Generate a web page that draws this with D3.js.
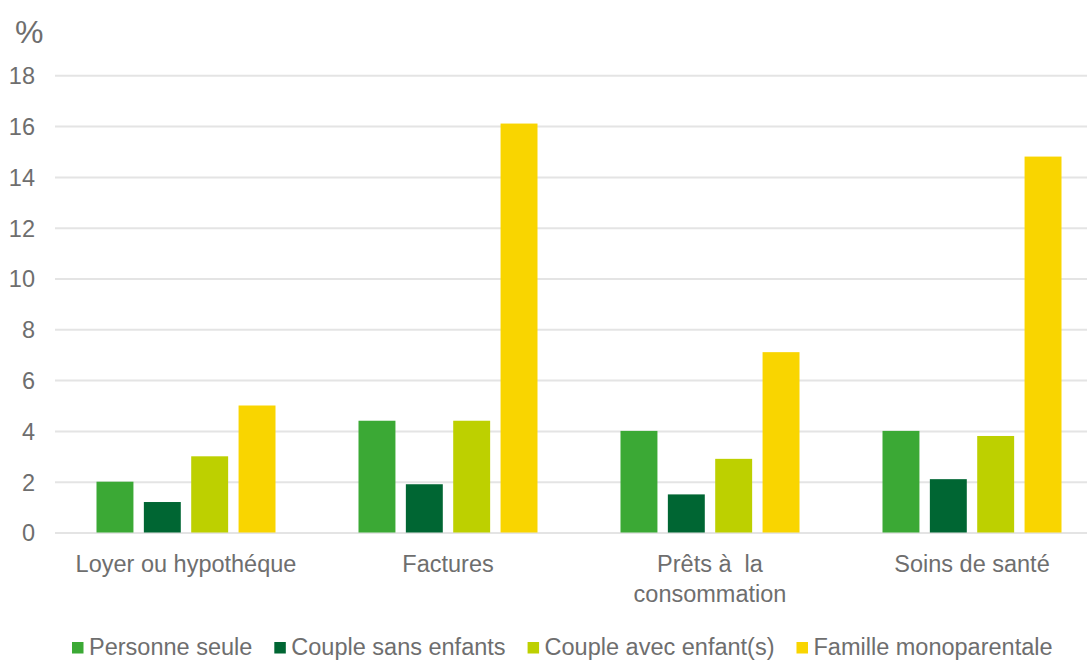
<!DOCTYPE html>
<html>
<head>
<meta charset="utf-8">
<script src="https://cdn.jsdelivr.net/npm/d3@7"></script>
<style>
  html, body { margin: 0; padding: 0; background: #fff; }
  svg { display: block; font-family: "Liberation Sans", Arial, sans-serif; }
</style>
</head>
<body>
<svg id="chart" width="1087" height="660"></svg>
<script>
const categories = [["Loyer ou hypothéque"], ["Factures"], ["Prêts à  la", "consommation"], ["Soins de santé"]];
const categoryKeys = ["Loyer ou hypothéque", "Factures", "Prêts à  la consommation", "Soins de santé"];
const seriesNames = ["Personne seule", "Couple sans enfants", "Couple avec enfant(s)", "Famille monoparentale"];
const seriesColors = ["#3ba935", "#006633", "#bdd000", "#f9d500"];
const personneSeule = [2.0, 4.4, 4.0, 4.0];
const coupleSansEnfants = [1.2, 1.9, 1.5, 2.1];
const coupleAvecEnfants = [3.0, 4.4, 2.9, 3.8];
const familleMonoparentale = [5.0, 16.1, 7.1, 14.8];
const yTicks = [0, 2, 4, 6, 8, 10, 12, 14, 16, 18];
const yUnit = "%";

const seriesValues = [personneSeule, coupleSansEnfants, coupleAvecEnfants, familleMonoparentale];
const svg = d3.select("#chart");
const textColor = "#6e6e6e";
const fontSize = 23.5;

const x0 = d3.scaleBand().domain(categoryKeys).range([55, 1103]).padding(0);
const x1 = d3.scaleBand().domain(seriesNames)
  .range([41.5, x0.bandwidth() - 41.5]).paddingInner(0.22).paddingOuter(0);
const y = d3.scaleLinear().domain([0, 18]).range([532.5, 75.3]);

// gridlines
const yAxis = d3.axisLeft(y).tickValues(yTicks).tickSize(-(1103 - 55)).tickPadding(20).tickFormat(d3.format("d"));
const gAxis = svg.append("g").attr("transform", "translate(55,0)").call(yAxis);
gAxis.select(".domain").remove();
gAxis.selectAll(".tick line").attr("stroke", "#e4e4e4").attr("stroke-width", 2);
gAxis.selectAll(".tick text")
  .attr("fill", textColor).attr("font-size", fontSize)
  .attr("font-family", "Liberation Sans, Arial, sans-serif")
  .attr("dy", "0.36em");

// "%" unit label
svg.append("text").attr("x", 15).attr("y", 43)
  .attr("fill", textColor).attr("font-size", 32).text(yUnit);

// bars
const groups = svg.append("g").selectAll("g").data(categoryKeys).join("g")
  .attr("transform", d => `translate(${x0(d)},0)`);
groups.selectAll("rect")
  .data((d, i) => seriesNames.map((s, j) => ({ s, j, v: seriesValues[j][i] })))
  .join("rect")
  .attr("x", d => x1(d.s))
  .attr("width", x1.bandwidth())
  .attr("y", d => y(d.v))
  .attr("height", d => y(0) - y(d.v))
  .attr("fill", d => seriesColors[d.j]);

// category labels
const catG = svg.append("g");
categoryKeys.forEach((k, i) => {
  const t = catG.append("text")
    .attr("x", x0(k) + x0.bandwidth() / 2)
    .attr("y", 572)
    .attr("text-anchor", "middle")
    .attr("fill", textColor)
    .attr("font-size", fontSize)
    .style("white-space", "pre");
  categories[i].forEach((line, li) => {
    t.append("tspan").attr("x", x0(k) + x0.bandwidth() / 2)
      .attr("dy", li === 0 ? 0 : 30).text(line);
  });
});

// legend
const legend = svg.append("g");
let lx = 72;
seriesNames.forEach((s, i) => {
  legend.append("rect").attr("x", lx).attr("y", 642).attr("width", 11.5).attr("height", 11.5)
    .attr("fill", seriesColors[i]);
  const t = legend.append("text").attr("x", lx + 17).attr("y", 655)
    .attr("fill", textColor).attr("font-size", fontSize).text(s);
  const w = t.node().getComputedTextLength();
  lx = lx + 17 + w + 22;
});
</script>
</body>
</html>
